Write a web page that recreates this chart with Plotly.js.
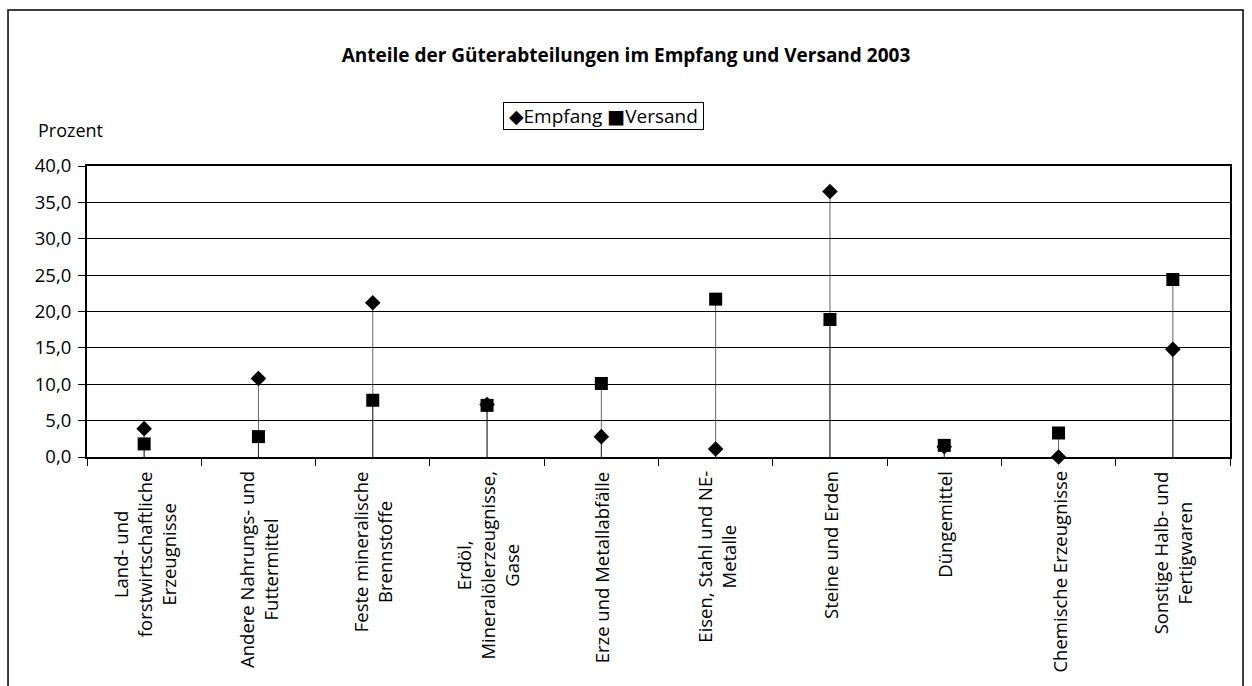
<!DOCTYPE html>
<html>
<head>
<meta charset="utf-8">
<script src="https://cdn.plot.ly/plotly-3.0.1.min.js"></script>
<style>
  html, body { margin: 0; padding: 0; background: #fff; }
  #chart { width: 1252px; height: 686px; }
</style>
</head>
<body>
<div id="chart"></div>
<script>
// Categories (Güterabteilungen), with line breaks as in the reference
const categories = [
  "Land- und<br>forstwirtschaftliche<br>Erzeugnisse",
  "Andere Nahrungs- und<br>Futtermittel",
  "Feste mineralische<br>Brennstoffe",
  "Erdöl,<br>Mineralölerzeugnisse,<br>Gase",
  "Erze und Metallabfälle",
  "Eisen, Stahl und NE-<br>Metalle",
  "Steine und Erden",
  "Düngemittel",
  "Chemische Erzeugnisse",
  "Sonstige Halb- und<br>Fertigwaren"
];
const categoryIds = ["c0","c1","c2","c3","c4","c5","c6","c7","c8","c9"];

// Series names and percent shares 2003
const seriesNames = ["Empfang", "Versand"];
const empfang = [3.9, 10.8, 21.2, 7.2, 2.8, 1.1, 36.5, 1.4, 0.0, 14.8];
const versand = [1.8, 2.8, 7.8, 7.1, 10.1, 21.7, 18.9, 1.6, 3.3, 24.4];

const yTicks = [0, 5, 10, 15, 20, 25, 30, 35, 40];

const FONT = "Open Sans, Noto Sans, sans-serif";

function dropLines(vals) {
  return {
    type: "data", symmetric: false,
    array: vals.map(() => 0), arrayminus: vals,
    width: 0, thickness: 1, color: "rgba(0,0,0,0.6)"
  };
}

const traces = [
  {
    type: "scatter", mode: "markers", name: seriesNames[0],
    x: categoryIds, y: empfang,
    marker: { symbol: "diamond", size: 12, color: "#000" },
    error_y: dropLines(empfang),
    cliponaxis: false
  },
  {
    type: "scatter", mode: "markers", name: seriesNames[1],
    x: categoryIds, y: versand,
    marker: { symbol: "square", size: 13, color: "#000" },
    error_y: dropLines(versand),
    cliponaxis: false
  }
];

const annotations = categories.map((c, i) => ({
  text: c, x: categoryIds[i], y: 0, xref: "x", yref: "y",
  yanchor: "top", xanchor: "center", yshift: -12,
  textangle: -90, align: "center", showarrow: false,
  font: { family: FONT, size: 18.5, color: "#000" }
}));
annotations.push({
  text: "Prozent", xref: "paper", yref: "paper",
  x: -0.0446, y: 1.124, xanchor: "left", yanchor: "middle",
  showarrow: false, font: { family: FONT, size: 18, color: "#000" }
});
// Legend box drawn as bordered text, like the reference
const glyph = g => '<span style="font-family:DejaVu Sans;font-size:19px">' + g + '</span>';
annotations.push({
  text: "&nbsp;" + glyph("◆") + seriesNames[0] + " " + glyph("■") + seriesNames[1] + "&nbsp;",
  xref: "paper", yref: "paper",
  x: (603.5 - 87) / 1143, y: (457 - 116.5) / 291,
  xanchor: "center", yanchor: "middle", showarrow: false,
  bordercolor: "#000", borderwidth: 1, borderpad: 0, bgcolor: "#fff",
  font: { family: FONT, size: 19, color: "#000" }
});

const layout = {
  width: 1252, height: 686,
  margin: { l: 87, r: 22, t: 166, b: 229 },
  paper_bgcolor: "#fff", plot_bgcolor: "#fff",
  separators: ",.",
  font: { family: FONT, size: 18, color: "#000" },
  title: {
    text: "<b>Anteile der Güterabteilungen im Empfang und Versand 2003</b>",
    x: 0.5, xref: "container", xanchor: "center",
    y: 1 - 55 / 686, yref: "container", yanchor: "middle",
    font: { family: FONT, size: 19, color: "#000" }
  },
  showlegend: false,
  xaxis: {
    type: "category", categoryorder: "array", categoryarray: categoryIds,
    range: [-0.5, 9.5],
    showticklabels: false, ticks: "outside", tickson: "boundaries",
    ticklen: 7, tickcolor: "#000", tickwidth: 1,
    showline: true, linecolor: "#000", linewidth: 2, mirror: true,
    showgrid: false, zeroline: false, fixedrange: true
  },
  yaxis: {
    range: [0, 40], tickvals: yTicks, tickformat: ".1f",
    ticks: "outside", ticklen: 7, tickcolor: "#000", tickwidth: 1,
    ticklabelstandoff: 3,
    showline: true, linecolor: "#000", linewidth: 2, mirror: true,
    showgrid: true, gridcolor: "#000", gridwidth: 1,
    zeroline: false, fixedrange: true,
    tickfont: { family: FONT, size: 18.5, color: "#000" }
  },
  annotations: annotations,
  shapes: [{
    type: "rect", xref: "paper", yref: "paper",
    x0: -0.0691, x1: 1.0114, y0: -0.9, y1: 1.536,
    line: { color: "#000", width: 1.5 }, fillcolor: "rgba(0,0,0,0)", layer: "below"
  }]
};

Plotly.newPlot("chart", traces, layout, { displayModeBar: false, staticPlot: true });
</script>
</body>
</html>
